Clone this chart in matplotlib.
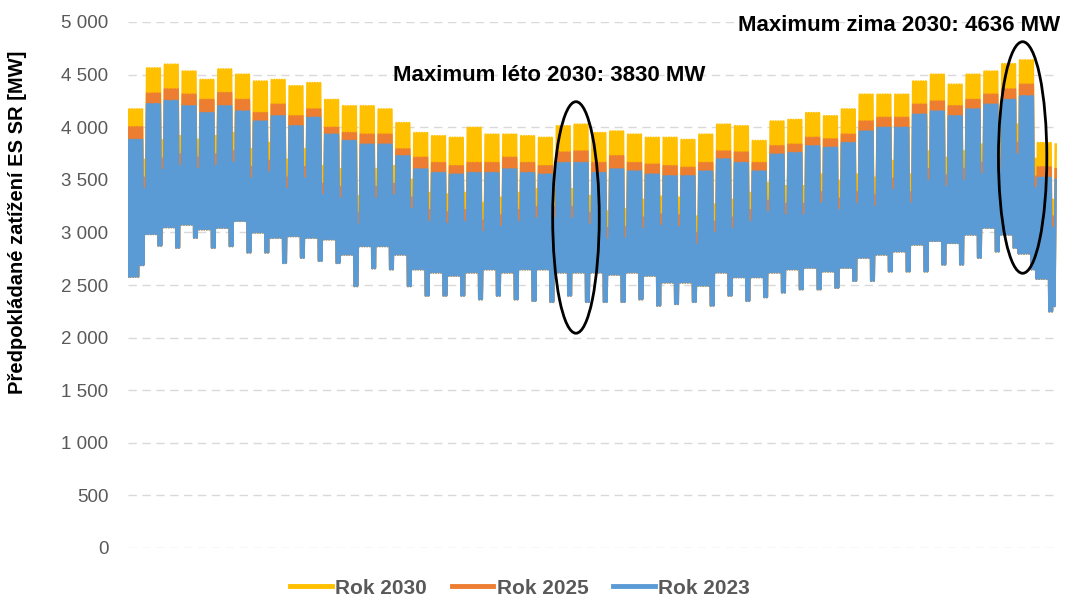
import matplotlib.pyplot as plt
from matplotlib.patches import Ellipse
from matplotlib.ticker import FuncFormatter

plt.rcParams['font.family'] = ['Liberation Sans', 'DejaVu Sans']

# weekly readings (MW), week 0 = first week of the year
# weekday daily peaks
peak_2030 = [4170, 4560, 4595, 4530, 4450, 4550, 4500, 4435, 4450, 4390,
             4420, 4260, 4200, 4200, 4170, 4040, 3945, 3915, 3900, 3995,
             3930, 3930, 3915, 3900, 4010, 4025, 3945, 3960, 3930, 3900,
             3900, 3880, 3930, 4025, 4010, 3870, 4055, 4070, 4135, 4105,
             4170, 4310, 4310, 4310, 4435, 4500, 4405, 4500, 4530, 4600,
             4636, 3850, 3835]
peak_2025 = [4000, 4320, 4360, 4310, 4260, 4325, 4260, 4135, 4215, 4105,
             4170, 3995, 3945, 3930, 3930, 3790, 3710, 3660, 3630, 3660,
             3660, 3710, 3660, 3630, 3760, 3770, 3660, 3725, 3660, 3645,
             3630, 3615, 3660, 3770, 3760, 3660, 3820, 3835, 3900, 3885,
             3930, 4055, 4090, 4090, 4215, 4245, 4200, 4260, 4310, 4360,
             4405, 3620, 3600]
peak_2023 = [3880, 4220, 4250, 4200, 4135, 4200, 4150, 4055, 4105, 4010,
             4090, 3930, 3870, 3835, 3835, 3725, 3600, 3565, 3550, 3565,
             3565, 3600, 3565, 3550, 3660, 3660, 3565, 3600, 3580, 3550,
             3535, 3535, 3580, 3695, 3660, 3580, 3740, 3755, 3820, 3805,
             3850, 3960, 3995, 3995, 4120, 4150, 4105, 4170, 4215, 4260,
             4295, 3520, 3500]

# sunday / holiday peaks (the narrow dips at the top)
sun_2030 = [3690, 3875, 3915, 3880, 3915, 3945, 3790, 3850, 3690, 3790,
            3630, 3600, 3345, 3600, 3630, 3500, 3375, 3360, 3375, 3280,
            3330, 3375, 3410, 3410, 3410, 3345, 3200, 3220, 3310, 3340,
            3330, 3150, 3265, 3310, 3375, 3470, 3440, 3440, 3550, 3490,
            3550, 3520, 3680, 3550, 3770, 3710, 3770, 3835, 3870, 4025,
            3700, 3310, 3835]
sun_2025 = [3520, 3700, 3740, 3710, 3740, 3770, 3620, 3680, 3520, 3620,
            3460, 3430, 3180, 3430, 3460, 3330, 3210, 3190, 3210, 3110,
            3160, 3210, 3240, 3240, 3240, 3180, 3040, 3050, 3140, 3170,
            3160, 2990, 3100, 3140, 3210, 3300, 3270, 3270, 3380, 3320,
            3380, 3350, 3510, 3380, 3600, 3540, 3600, 3660, 3700, 3850,
            3530, 3150, 3600]
sun_2023 = [3410, 3590, 3630, 3600, 3630, 3660, 3510, 3570, 3410, 3510,
            3350, 3320, 3070, 3320, 3350, 3220, 3100, 3080, 3100, 3000,
            3050, 3100, 3130, 3130, 3130, 3070, 2930, 2940, 3030, 3060,
            3050, 2880, 2990, 3030, 3100, 3190, 3160, 3160, 3270, 3210,
            3270, 3240, 3400, 3270, 3490, 3430, 3490, 3550, 3590, 3740,
            3420, 3040, 3500]

# night minima (only the 2023 ones are visible, the others sit behind it)
low_wd = [2580, 2985, 3050, 3075, 3030, 3045, 3110, 3000, 2950, 2965,
          2950, 2935, 2790, 2870, 2870, 2790, 2650, 2620, 2590, 2620,
          2650, 2620, 2650, 2650, 2620, 2620, 2620, 2600, 2620, 2590,
          2525, 2525, 2495, 2620, 2575, 2575, 2620, 2650, 2665, 2630,
          2665, 2760, 2790, 2820, 2885, 2920, 2900, 2980, 3045, 2980,
          2800, 2560, 2300]
low_we = [2690, 2875, 2855, 2950, 2855, 2870, 2810, 2810, 2710, 2760,
          2730, 2710, 2490, 2660, 2650, 2490, 2400, 2400, 2400, 2365,
          2400, 2365, 2350, 2340, 2400, 2340, 2340, 2340, 2365, 2305,
          2320, 2340, 2305, 2400, 2350, 2385, 2430, 2460, 2460, 2475,
          2540, 2540, 2630, 2630, 2630, 2695, 2695, 2760, 2820, 2855,
          2650, 2250, 2250]

series = [
    ("Rok 2030", peak_2030, sun_2030, "#FFC000"),
    ("Rok 2025", peak_2025, sun_2025, "#ED7D31"),
    ("Rok 2023", peak_2023, sun_2023, "#5B9BD5"),
]


def daily_zigzag(peak, sun_peak):
    # one low and one high point per day, like the hourly curve
    xs, ys = [], []
    for d in range(365):
        wk, wd = divmod(d, 7)
        lo = low_we[wk] if wd >= 5 else low_wd[wk]
        hi = sun_peak[wk] if wd == 6 else peak[wk]
        xs += [d, d + 0.5]
        ys += [lo, hi]
    return xs, ys


fig = plt.figure(figsize=(10.67, 5.98), dpi=100)
ax = fig.add_axes([128 / 1067, 50 / 598, 929 / 1067, 526 / 598])

lines = []
for name, peak, sun_peak, col in series:
    xs, ys = daily_zigzag(peak, sun_peak)
    ln, = ax.plot(xs, ys, color=col, lw=1.8, label=name, zorder=3)
    lines.append(ln)

ax.set_xlim(0, 365)
ax.set_ylim(0, 5000)
ax.set_yticks(range(0, 5001, 500))
ax.yaxis.set_major_formatter(FuncFormatter(lambda v, p: f"{int(v):,}".replace(",", " ")))
ax.set_xticks([])
ax.tick_params(axis="y", length=0, pad=14, labelsize=13.5, labelcolor="#595959")
ax.grid(axis="y", color="#D9D9D9", lw=1, linestyle=(0, (6, 4)))
ax.set_axisbelow(True)
for s in ax.spines.values():
    s.set_visible(False)

fig.text(18 / 1067, 1 - 222 / 598, "Předpokládané zatížení ES SR [MW]", rotation=90,
         ha="center", va="center", fontsize=14.5, fontweight="bold")

# annotations
ax.text(165.6, 4496, "Maximum léto 2030: 3830 MW", ha="center", va="center",
        fontsize=16, fontweight="bold", zorder=5)
ax.text(303, 4965, "Maximum zima 2030: 4636 MW", ha="center", va="center",
        fontsize=16, fontweight="bold", zorder=5)
ax.add_patch(Ellipse((176, 3142), 18.3, 2201, fill=False, ec="black", lw=2, zorder=4))
ax.add_patch(Ellipse((351.5, 3712), 19.0, 2201, fill=False, ec="black", lw=2, zorder=4))

leg = fig.legend(lines, [s[0] for s in series], loc="center",
                 bbox_to_anchor=(520 / 1067, 10 / 598), ncol=3, frameon=False,
                 handlelength=2.0, handletextpad=0.15, columnspacing=1.2,
                 prop={"size": 15, "weight": "bold"}, labelcolor="#595959")
for h in leg.get_lines():
    h.set_linewidth(3.5)

fig.savefig("out.png", dpi=100)
